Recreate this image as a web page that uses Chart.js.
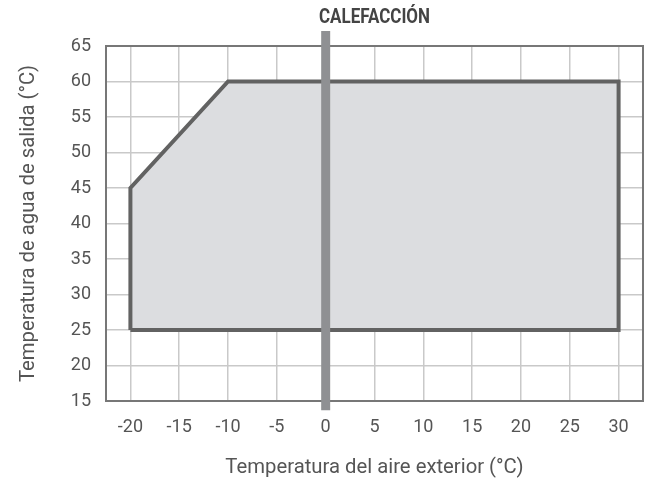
<!DOCTYPE html>
<html>
<head>
<meta charset="utf-8">
<script src="https://cdn.jsdelivr.net/npm/chart.js@4.4.0/dist/chart.umd.min.js"></script>
<style>
  html, body { margin: 0; background: #fff; }
  #wrap { width: 652px; height: 480px; }
</style>
</head>
<body>
<div id="wrap"><canvas id="chart"></canvas></div>
<script>
// operating envelope (outdoor air temp vs. leaving water temp)
const envelopeX = [-20, -20, -10, 30, 30, -20];
const envelopeY = [25, 45, 60, 60, 25, 25];

// 0 °C marker, runs a little past the plot on both ends
const markerX = [0, 0];
const markerY = [13.7, 67.1];

const xRange = [-22.5, 32.5];
const yRange = [15, 65];
const xTickValues = [-20, -15, -10, -5, 0, 5, 10, 15, 20, 25, 30];
const yTickValues = [15, 20, 25, 30, 35, 40, 45, 50, 55, 60, 65];

const chartTitle = 'CALEFACCIÓN';
const xTitle = 'Temperatura del aire exterior (°C)';
const yTitle = 'Temperatura de agua de salida (°C)';

const toPoints = (xs, ys) => xs.map((x, i) => ({ x: x, y: ys[i] }));

// plain frame round the plot area, plus the condensed heading above it
const frame = {
    id: 'frame',
    beforeDatasetsDraw(chart) {
        const a = chart.chartArea;
        const ctx = chart.ctx;
        ctx.save();
        ctx.strokeStyle = '#777';
        ctx.lineWidth = 2;
        ctx.strokeRect(a.left, a.top, a.right - a.left, a.bottom - a.top);
        ctx.restore();
    },
    afterDraw(chart) {
        const a = chart.chartArea;
        const ctx = chart.ctx;
        ctx.save();
        ctx.font = 'bold 19.5px Roboto, "Liberation Sans", sans-serif';
        ctx.fillStyle = '#444';
        ctx.textAlign = 'center';
        ctx.textBaseline = 'middle';
        ctx.translate((a.left + a.right) / 2, 18);
        ctx.scale(0.87, 1);
        ctx.fillText(chartTitle, 0, 0);
        ctx.restore();
    }
};

const tickFont = { family: 'Roboto, "Liberation Sans", sans-serif', size: 18 };
const titleFont = { family: 'Roboto, "Liberation Sans", sans-serif', size: 20.3 };

new Chart(document.getElementById('chart'), {
    type: 'scatter',
    plugins: [frame],
    data: {
        datasets: [{
            data: toPoints(markerX, markerY),
            showLine: true,
            borderColor: '#8f9093',
            borderWidth: 9,
            borderCapStyle: 'butt',
            pointRadius: 0,
            clip: false,
            order: 0
        }, {
            data: toPoints(envelopeX, envelopeY),
            showLine: true,
            borderColor: '#626262',
            borderWidth: 4,
            borderJoinStyle: 'miter',
            backgroundColor: '#dcdde0',
            fill: 'shape',
            pointRadius: 0,
            order: 1
        }]
    },
    options: {
        responsive: true,
        maintainAspectRatio: false,
        devicePixelRatio: 1,
        animation: false,
        events: [],
        layout: { padding: { top: 46, right: 9, bottom: 0, left: 0 } },
        scales: {
            x: {
                type: 'linear',
                min: xRange[0],
                max: xRange[1],
                afterBuildTicks: function (scale) {
                    scale.ticks = xTickValues.map(v => ({ value: v }));
                },
                afterFit: function (scale) { scale.height = 79; },
                border: { display: false },
                grid: { color: '#c9c9c9', lineWidth: 1.5, drawTicks: false },
                ticks: {
                    padding: 16,
                    color: '#555',
                    font: tickFont
                },
                title: {
                    display: true,
                    text: xTitle,
                    color: '#555',
                    font: titleFont,
                    padding: { top: 0, bottom: 0 }
                }
            },
            y: {
                min: yRange[0],
                max: yRange[1],
                afterBuildTicks: function (scale) {
                    scale.ticks = yTickValues.map(v => ({ value: v }));
                },
                afterFit: function (scale) { scale.width = 106; },
                border: { display: false },
                grid: { color: '#c9c9c9', lineWidth: 1.5, drawTicks: false },
                ticks: {
                    padding: 15,
                    color: '#555',
                    font: tickFont
                },
                title: {
                    display: true,
                    text: yTitle,
                    color: '#555',
                    font: titleFont,
                    padding: { top: 17, bottom: 0 }
                }
            }
        },
        plugins: {
            legend: { display: false },
            tooltip: { enabled: false },
            title: { display: false }
        }
    }
});
</script>
</body>
</html>
